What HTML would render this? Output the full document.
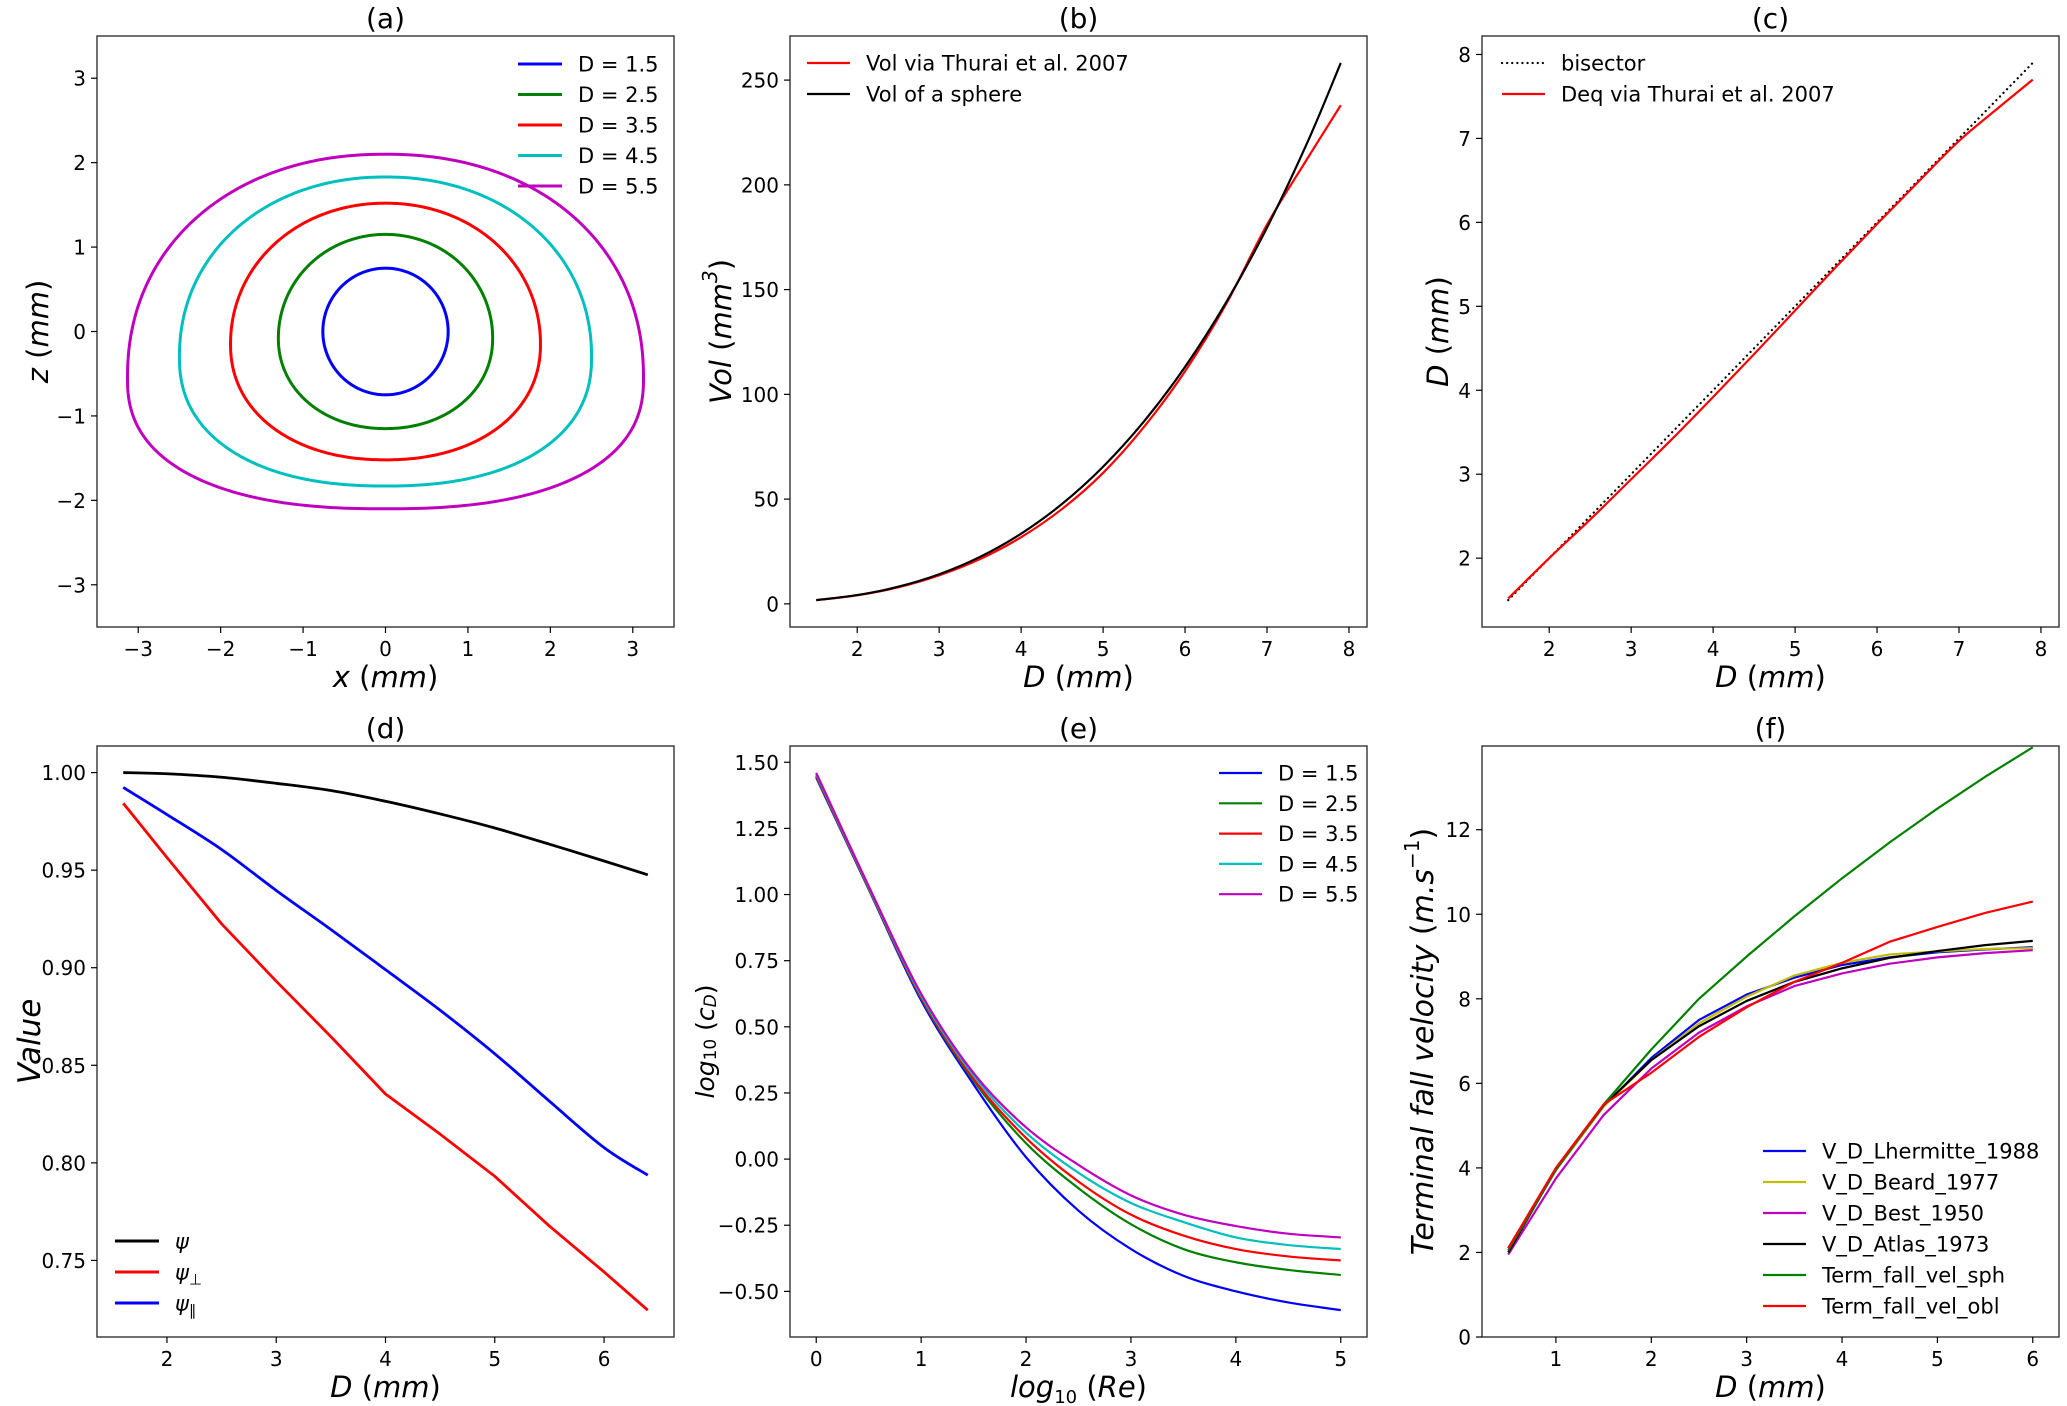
<!DOCTYPE html>
<html><head><meta charset="utf-8">
<style>
html,body{margin:0;padding:0;background:#fff;}
svg{display:block;font-family:"DejaVu Sans","Liberation Sans",sans-serif;}
.tk{font-size:20px;fill:#000;}
.ttl{font-size:28px;fill:#000;}
.lab{font-size:29px;fill:#000;}
.leg{font-size:21px;fill:#000;}
</style></head>
<body>
<svg id="fig" width="2067" height="1406" viewBox="0 0 2067 1406" xmlns="http://www.w3.org/2000/svg"></svg>
<script>
// ---------- Panel (a) drop shape parameters ----------
const aDiam = [1.5, 2.5, 3.5, 4.5, 5.5];
const aHalfWidth = [0.76, 1.30, 1.88, 2.50, 3.13];
const aHalfHeight = [0.75, 1.15, 1.52, 1.83, 2.10];
const aWidestZ = [0, -0.08, -0.15, -0.30, -0.55];
const aUpperSquare = [2.0, 2.02, 2.05, 2.1, 2.15];
const aLowerSquare = [2.0, 2.08, 2.15, 2.28, 2.4];
const aColors = ['#0000ff', '#008000', '#ff0000', '#00bfbf', '#bf00bf'];
const aLabels = ['D = 1.5', 'D = 2.5', 'D = 3.5', 'D = 4.5', 'D = 5.5'];
const aTicks = [-3, -2, -1, 0, 1, 2, 3];
const aTickLabels = ['−3', '−2', '−1', '0', '1', '2', '3'];
// ---------- Panel (b) ----------
const bD = [1.5, 2, 2.5, 3, 3.5, 4, 4.5, 5, 5.5, 6, 6.5, 7, 7.5, 7.9];
const bVolThurai = [1.77, 4.1, 7.9, 13.6, 21.4, 31.8, 45.3, 62.5, 84.5, 111, 143, 181, 213, 238];
const bVolSphere = [1.77, 4.19, 8.18, 14.14, 22.45, 33.51, 47.71, 65.45, 87.11, 113.1, 143.8, 179.6, 220.9, 258.2];
const bXTicks = [2, 3, 4, 5, 6, 7, 8];
const bYTicks = [0, 50, 100, 150, 200, 250];
// ---------- Panel (c) ----------
const cD = [1.5, 2, 2.5, 3, 3.5, 4, 4.5, 5, 5.5, 6, 6.5, 7, 7.5, 7.9];
const cBisector = [1.5, 7.9];
const cDeq = [1.52, 2.0, 2.46, 2.94, 3.42, 3.92, 4.43, 4.95, 5.47, 5.98, 6.48, 6.97, 7.38, 7.7];
const cTicks = [2, 3, 4, 5, 6, 7, 8];
// ---------- Panel (d) ----------
const dD = [1.6, 2, 2.5, 3, 3.5, 4, 4.5, 5, 5.5, 6, 6.4];
const dPsi = [1.0, 0.9994, 0.9976, 0.9945, 0.9908, 0.9853, 0.9788, 0.9716, 0.9633, 0.9547, 0.9476];
const dPsiPerp = [0.9843, 0.9565, 0.9225, 0.8931, 0.8647, 0.8353, 0.8147, 0.7931, 0.7676, 0.7441, 0.7245];
const dPsiPar = [0.9924, 0.9785, 0.9606, 0.9396, 0.9196, 0.899, 0.8782, 0.8559, 0.8316, 0.8078, 0.7937];
const dXTicks = [2, 3, 4, 5, 6];
const dYTicks = [0.75, 0.80, 0.85, 0.90, 0.95, 1.00];
const dYTickLabels = ['0.75', '0.80', '0.85', '0.90', '0.95', '1.00'];
// ---------- Panel (e) ----------
const eRe = [0, 0.5, 1, 1.5, 2, 2.5, 3, 3.5, 4, 4.5, 5];
const eCd15 = [1.442, 1.02, 0.60, 0.282, 0.007, -0.195, -0.34, -0.441, -0.50, -0.542, -0.571];
const eCd25 = [1.446, 1.022, 0.608, 0.296, 0.06, -0.11, -0.246, -0.34, -0.39, -0.419, -0.438];
const eCd35 = [1.45, 1.025, 0.612, 0.303, 0.08, -0.085, -0.21, -0.289, -0.34, -0.368, -0.383];
const eCd45 = [1.455, 1.028, 0.618, 0.315, 0.1, -0.052, -0.166, -0.238, -0.296, -0.325, -0.34];
const eCd55 = [1.46, 1.032, 0.625, 0.325, 0.12, -0.022, -0.137, -0.21, -0.253, -0.282, -0.296];
const eXTicks = [0, 1, 2, 3, 4, 5];
const eYTicks = [-0.5, -0.25, 0, 0.25, 0.5, 0.75, 1.0, 1.25, 1.5];
const eYTickLabels = ['−0.50', '−0.25', '0.00', '0.25', '0.50', '0.75', '1.00', '1.25', '1.50'];
// ---------- Panel (f) ----------
const fD = [0.5, 1, 1.5, 2, 2.5, 3, 3.5, 4, 4.5, 5, 5.5, 6];
const fLhermitte = [2.1, 3.95, 5.45, 6.6, 7.5, 8.1, 8.5, 8.8, 8.98, 9.1, 9.17, 9.22];
const fBeard = [2.05, 3.95, 5.45, 6.55, 7.42, 8.05, 8.55, 8.85, 9.05, 9.12, 9.18, 9.2];
const fBest = [1.95, 3.75, 5.25, 6.35, 7.2, 7.82, 8.3, 8.6, 8.83, 8.98, 9.08, 9.15];
const fAtlas = [2.0, 3.97, 5.48, 6.55, 7.35, 7.95, 8.4, 8.72, 8.97, 9.13, 9.27, 9.37];
const fSph = [2.05, 3.95, 5.5, 6.8, 8.0, 9.0, 9.95, 10.85, 11.7, 12.5, 13.25, 13.95];
const fObl = [2.1, 4.0, 5.5, 6.25, 7.1, 7.8, 8.4, 8.85, 9.35, 9.7, 10.03, 10.3];
const fXTicks = [1, 2, 3, 4, 5, 6];
const fYTicks = [0, 2, 4, 6, 8, 10, 12];

const NS = 'http://www.w3.org/2000/svg';
const fig = document.getElementById('fig');
function mk(tag, attrs, parent) {
  const e = document.createElementNS(NS, tag);
  for (const k in attrs) e.setAttribute(k, attrs[k]);
  (parent || fig).appendChild(e);
  return e;
}
function scale(d0, d1, p0, p1) { return v => p0 + (v - d0) / (d1 - d0) * (p1 - p0); }

function makeAxes(name, box, xr, yr) {
  const g = mk('g', {});
  
  
  const sx = scale(xr[0], xr[1], box.l, box.r);
  const sy = scale(yr[0], yr[1], box.b, box.t);
  const clipId = name + '-clip';
  const cp = mk('clipPath', { id: clipId }, g);
  mk('rect', { x: box.l, y: box.t, width: box.r - box.l, height: box.b - box.t }, cp);
  const plot = mk('g', { 'clip-path': 'url(#' + clipId + ')' }, g);
  
  
  return { g, plot, sx, sy, box };
}
function drawFrame(ax) {
  const b = ax.box;
  const r = mk('rect', { x: b.l, y: b.t, width: b.r - b.l, height: b.b - b.t, fill: 'none', stroke: '#333', 'stroke-width': 1.4 }, ax.g);
  
  
}
function xTicks(ax, vals, labels) {
  const g = mk('g', {}, ax.g);
  
  
  vals.forEach((v, i) => {
    const x = ax.sx(v);
    mk('line', { x1: x, x2: x, y1: ax.box.b, y2: ax.box.b + 6, stroke: '#000', 'stroke-width': 1.2 }, g);
    const t = mk('text', { x: x, y: ax.box.b + 29, 'text-anchor': 'middle', class: 'tk' }, g);
    t.textContent = labels ? labels[i] : String(v);
  });
}
function yTicks(ax, vals, labels) {
  const g = mk('g', {}, ax.g);
  
  
  vals.forEach((v, i) => {
    const y = ax.sy(v);
    mk('line', { x1: ax.box.l - 6, x2: ax.box.l, y1: y, y2: y, stroke: '#000', 'stroke-width': 1.2 }, g);
    const t = mk('text', { x: ax.box.l - 11, y: y + 7.5, 'text-anchor': 'end', class: 'tk' }, g);
    t.textContent = labels ? labels[i] : String(v);
  });
}
function title(ax, txt) {
  const t = mk('text', { x: (ax.box.l + ax.box.r) / 2, y: ax.box.t - 8, 'text-anchor': 'middle', class: 'ttl' }, ax.g);
  
  
  t.textContent = txt;
}
function xLabel(ax, html) {
  const t = mk('text', { x: (ax.box.l + ax.box.r) / 2, y: ax.box.b + 60, 'text-anchor': 'middle', class: 'lab' }, ax.g);
  
  
  t.innerHTML = html;
}
function yLabel(ax, html, dx, size) {
  const cx = ax.box.l - dx, cy = (ax.box.t + ax.box.b) / 2;
  const t = mk('text', { x: cx, y: cy, 'text-anchor': 'middle', class: 'lab', transform: 'rotate(-90 ' + cx + ' ' + cy + ')', 'dominant-baseline': 'central' }, ax.g);
  if (size) t.setAttribute('style', 'font-size:' + size + 'px');
  
  
  t.innerHTML = html;
}
function smoothPath(pts) {
  let d = 'M' + pts[0][0] + ',' + pts[0][1];
  for (let i = 0; i < pts.length - 1; i++) {
    const p0 = pts[i - 1] || pts[i], p1 = pts[i], p2 = pts[i + 1], p3 = pts[i + 2] || p2;
    const c1 = [p1[0] + (p2[0] - p0[0]) / 6, p1[1] + (p2[1] - p0[1]) / 6];
    const c2 = [p2[0] - (p3[0] - p1[0]) / 6, p2[1] - (p3[1] - p1[1]) / 6];
    d += ' C' + c1[0] + ',' + c1[1] + ' ' + c2[0] + ',' + c2[1] + ' ' + p2[0] + ',' + p2[1];
  }
  return d;
}
function series(ax, xs, ys, color, width, name, smooth, dash) {
  const pts = xs.map((x, i) => [ax.sx(x), ax.sy(ys[i])]);
  const d = smooth ? smoothPath(pts) : 'M' + pts.map(p => p[0] + ',' + p[1]).join(' L');
  const p = mk('path', { d: d, fill: 'none', stroke: color, 'stroke-width': width, 'stroke-linejoin': 'round' }, ax.plot);
  if (dash) { p.setAttribute('stroke-dasharray', dash); p.setAttribute('stroke-linecap', 'round'); }
  
  
  return p;
}
function legend(ax, x0, y0, gap, entries, lineLen, width) {
  const g = mk('g', {}, ax.g);
  
  
  entries.forEach((e, i) => {
    const y = y0 + i * gap;
    const ln = mk('line', { x1: x0, x2: x0 + lineLen, y1: y, y2: y, stroke: e.c, 'stroke-width': width }, g);
    if (e.dash) { ln.setAttribute('stroke-dasharray', e.dash); ln.setAttribute('stroke-linecap', 'round'); }
    
    
    const t = mk('text', { x: x0 + lineLen + 16, y: y + 7.5, class: 'leg' }, g);
    
    
    t.innerHTML = e.t;
  });
}
const mm = '<tspan font-style="italic">mm</tspan>';

// ===== Panel (a) =====
const A = makeAxes('panel-a', { l: 97, t: 36, r: 674, b: 627 }, [-3.5, 3.5], [-3.5, 3.5]);
aDiam.forEach((D, k) => {
  const pts = [];
  const a = aHalfWidth[k], c = aHalfHeight[k], z0 = aWidestZ[k];
  for (let i = 0; i <= 360; i++) {
    const t = i / 360 * 2 * Math.PI;
    const ct = Math.cos(t), st = Math.sin(t);
    const n = st >= 0 ? aUpperSquare[k] : aLowerSquare[k];
    const u = Math.sign(ct) * Math.pow(Math.abs(ct), 2 / n);
    const v = Math.sign(st) * Math.pow(Math.abs(st), 2 / n);
    const x = a * u;
    const z = v >= 0 ? z0 + (c - z0) * v : z0 + (c + z0) * v;
    pts.push(A.sx(x).toFixed(2) + ',' + A.sy(z).toFixed(2));
  }
  const p = mk('path', { d: 'M' + pts.join(' L') + 'Z', fill: 'none', stroke: aColors[k], 'stroke-width': 3 }, A.plot);
  
  
});
drawFrame(A); xTicks(A, aTicks, aTickLabels); yTicks(A, aTicks, aTickLabels);
title(A, '(a)');
xLabel(A, '<tspan font-style="italic">x</tspan> (' + mm + ')');
yLabel(A, '<tspan font-style="italic">z</tspan> (' + mm + ')', 59);
legend(A, 518, 64, 30.5, aDiam.map((d, i) => ({ t: aLabels[i], c: aColors[i] })), 44, 3);

// ===== Panel (b) =====
const B = makeAxes('panel-b', { l: 790, t: 36, r: 1367, b: 627 }, [1.18, 8.22], [-11.05, 271.05]);
series(B, bD, bVolThurai, '#ff0000', 2.2, 'vol-thurai-line', true);
series(B, bD, bVolSphere, '#000000', 2.2, 'vol-sphere-line', true);
drawFrame(B); xTicks(B, bXTicks); yTicks(B, bYTicks);
title(B, '(b)');
xLabel(B, '<tspan font-style="italic">D</tspan> (' + mm + ')');
yLabel(B, '<tspan font-style="italic">Vol</tspan> (' + mm + '<tspan font-style="italic" dy="-11" font-size="20">3</tspan><tspan dy="11">)</tspan>', 69);
legend(B, 807, 63, 31, [{ t: 'Vol via Thurai et al. 2007', c: '#ff0000' }, { t: 'Vol of a sphere', c: '#000' }], 43, 2.2);

// ===== Panel (c) =====
const C = makeAxes('panel-c', { l: 1482, t: 36, r: 2059, b: 627 }, [1.18, 8.22], [1.18, 8.22]);
series(C, cBisector, cBisector, '#000', 2.2, 'bisector-line', false, '0.1 5');
series(C, cD, cDeq, '#ff0000', 2.2, 'deq-thurai-line', true);
drawFrame(C); xTicks(C, cTicks); yTicks(C, cTicks);
title(C, '(c)');
xLabel(C, '<tspan font-style="italic">D</tspan> (' + mm + ')');
yLabel(C, '<tspan font-style="italic">D</tspan> (' + mm + ')', 44);
legend(C, 1502, 63, 31, [{ t: 'bisector', c: '#000', dash: '0.1 5' }, { t: 'Deq via Thurai et al. 2007', c: '#ff0000' }], 43, 2.2);

// ===== Panel (d) =====
const Dp = makeAxes('panel-d', { l: 97, t: 746, r: 674, b: 1337 }, [1.36, 6.64], [0.71076, 1.01362]);
series(Dp, dD, dPsi, '#000', 2.8, 'psi-line', true);
series(Dp, dD, dPsiPerp, '#ff0000', 2.8, 'psi-perp-line', false);
series(Dp, dD, dPsiPar, '#0000ff', 2.8, 'psi-par-line', true);
drawFrame(Dp); xTicks(Dp, dXTicks); yTicks(Dp, dYTicks, dYTickLabels);
title(Dp, '(d)');
xLabel(Dp, '<tspan font-style="italic">D</tspan> (' + mm + ')');
yLabel(Dp, '<tspan font-style="italic">Value</tspan>', 67, 31);
legend(Dp, 115, 1241, 31, [
  { t: '<tspan font-style="italic">ψ</tspan>', c: '#000' },
  { t: '<tspan font-style="italic">ψ</tspan><tspan font-size="15" dy="5">⊥</tspan>', c: '#ff0000' },
  { t: '<tspan font-style="italic">ψ</tspan><tspan font-size="15" dy="5">∥</tspan>', c: '#0000ff' }], 44, 3);

// ===== Panel (e) =====
const E = makeAxes('panel-e', { l: 790, t: 746, r: 1367, b: 1337 }, [-0.25, 5.25], [-0.6725, 1.5615]);
const eSeries = [eCd15, eCd25, eCd35, eCd45, eCd55];
eSeries.forEach((ys, k) => series(E, eRe, ys, aColors[k], 2.2, 'cd-line-d' + String(aDiam[k]).replace('.', '-'), true));
drawFrame(E); xTicks(E, eXTicks); yTicks(E, eYTicks, eYTickLabels);
title(E, '(e)');
xLabel(E, '<tspan font-style="italic">log</tspan><tspan font-size="18" dy="6">10</tspan><tspan dy="-6"> (</tspan><tspan font-style="italic">Re</tspan>)');
yLabel(E, '<tspan font-style="italic">log</tspan><tspan font-size="17" dy="6">10</tspan><tspan dy="-6"> (</tspan><tspan font-style="italic">c</tspan><tspan font-style="italic" font-size="17" dy="6">D</tspan><tspan dy="-6">)</tspan>', 85, 25);
legend(E, 1219, 773, 30.3, aDiam.map((d, i) => ({ t: aLabels[i], c: aColors[i] })), 43, 2.2);

// ===== Panel (f) =====
const F = makeAxes('panel-f', { l: 1482, t: 746, r: 2059, b: 1337 }, [0.225, 6.275], [0, 13.98]);
series(F, fD, fLhermitte, '#0000ff', 2.2, 'v-lhermitte-1988', false);
series(F, fD, fBeard, '#bfbf00', 2.2, 'v-beard-1977', false);
series(F, fD, fBest, '#bf00bf', 2.2, 'v-best-1950', false);
series(F, fD, fAtlas, '#000', 2.2, 'v-atlas-1973', false);
series(F, fD, fSph, '#008000', 2.2, 'term-fall-vel-sph', false);
series(F, fD, fObl, '#ff0000', 2.2, 'term-fall-vel-obl', false);
drawFrame(F); xTicks(F, fXTicks); yTicks(F, fYTicks);
title(F, '(f)');
xLabel(F, '<tspan font-style="italic">D</tspan> (' + mm + ')');
yLabel(F, '<tspan font-style="italic">Terminal fall velocity</tspan> (<tspan font-style="italic">m.s</tspan><tspan font-size="20" dy="-11">−1</tspan><tspan dy="11">)</tspan>', 59, 30);
legend(F, 1763, 1151, 31, [
  { t: 'V_D_Lhermitte_1988', c: '#0000ff' }, { t: 'V_D_Beard_1977', c: '#bfbf00' },
  { t: 'V_D_Best_1950', c: '#bf00bf' }, { t: 'V_D_Atlas_1973', c: '#000' },
  { t: 'Term_fall_vel_sph', c: '#008000' }, { t: 'Term_fall_vel_obl', c: '#ff0000' }], 43, 2.2);
</script>
</body></html>
